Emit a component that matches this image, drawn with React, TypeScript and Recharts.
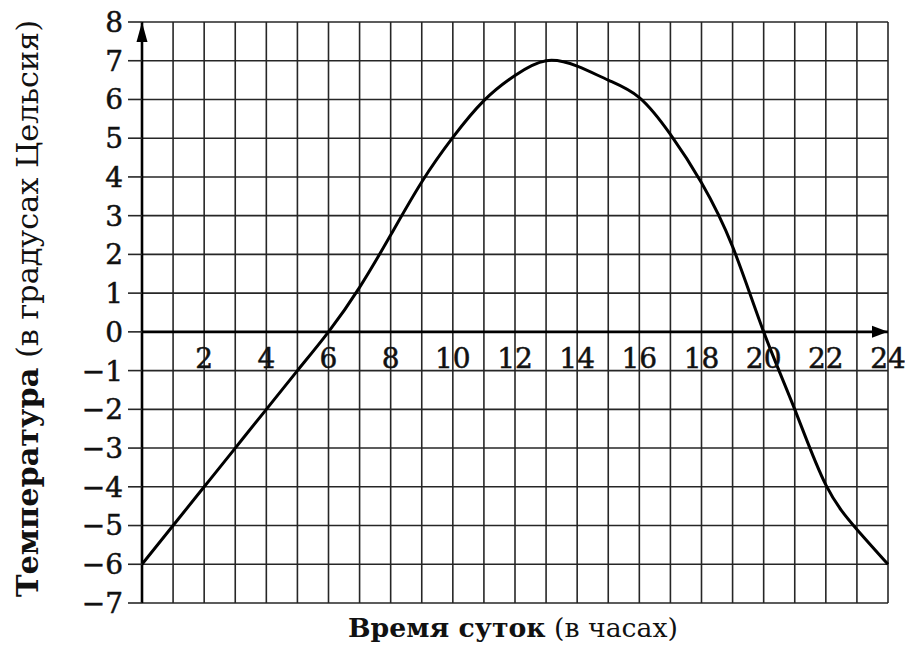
import React from 'react';
import { LineChart, Line, XAxis, YAxis, CartesianGrid, ReferenceLine, ReferenceDot } from 'recharts';

const HOURS = [0, 1, 2, 3, 4, 5, 6, 7, 8, 9, 10, 11, 12, 13, 14, 15, 16, 17, 18, 19, 20, 21, 22, 23, 24];
const TEMPS = [-6, -5, -4, -3, -2, -1, 0, 1.15, 2.5, 3.87, 5.02, 5.97, 6.62, 7, 6.86, 6.5, 6.05, 5.1, 3.85, 2.2, 0, -2, -3.95, -5.1, -6];
const X_TICKS = HOURS;
const Y_TICKS = [-7, -6, -5, -4, -3, -2, -1, 0, 1, 2, 3, 4, 5, 6, 7, 8];
const X_LABELS = [2, 4, 6, 8, 10, 12, 14, 16, 18, 20, 22, 24];
const X_TITLE_BOLD = 'Время суток';
const X_TITLE_REST = ' (в часах)';
const Y_TITLE_BOLD = 'Температура';
const Y_TITLE_REST = ' (в градусах Цельсия)';

const data = HOURS.map((h, i) => ({ hour: h, temp: TEMPS[i] }));

const FONT = "'DejaVu Serif', 'Liberation Serif', serif";
const GRID = '#262626';

const fmtY = (v: number) => (v < 0 ? '\u2212' + Math.abs(v) : String(v));

export default function App() {
  return (
    <div style={{ width: 913, height: 661, margin: -8, background: '#fff' }}>
      <LineChart width={913} height={661} data={data} margin={{ top: 22, right: 25, bottom: 57, left: 0 }}>
        <CartesianGrid stroke={GRID} strokeWidth={1.6} />
        <XAxis
          dataKey="hour"
          type="number"
          domain={[0, 24]}
          ticks={X_TICKS}
          interval={0}
          tick={() => <g />}
          tickLine={false}
          axisLine={false}
          height={1}
          label={{
            content: (p: any) => {
              const vb = p.viewBox || { x: 142, y: 603, width: 746 };
              return (
                <text
                  x={vb.x + vb.width / 2 - 2}
                  y={vb.y + 34}
                  textAnchor="middle"
                  fontFamily={FONT}
                  fontSize={26}
                  fill="#111"
                  textLength={330}
                  lengthAdjust="spacingAndGlyphs"
                >
                  <tspan fontWeight="bold">{X_TITLE_BOLD}</tspan>
                  <tspan>{X_TITLE_REST}</tspan>
                </text>
              );
            },
          }}
        />
        <YAxis
          type="number"
          domain={[-7, 8]}
          ticks={Y_TICKS}
          interval={0}
          width={142}
          tickSize={14}
          tickMargin={5}
          tickFormatter={fmtY}
          tick={{ fontFamily: FONT, fontSize: 28, fill: '#111', stroke: '#111', strokeWidth: 0.5 }}
          tickLine={{ stroke: GRID, strokeWidth: 1.6 }}
          axisLine={{ stroke: '#000', strokeWidth: 2.6 }}
          label={{
            content: (p: any) => {
              const vb = p.viewBox || { x: 0, y: 22, width: 142, height: 581 };
              const cx = vb.x + 38;
              const cy = vb.y + vb.height / 2 - 4;
              return (
                <text
                  x={cx}
                  y={cy}
                  transform={`rotate(-90, ${cx}, ${cy})`}
                  textAnchor="middle"
                  fontFamily={FONT}
                  fontSize={29}
                  fill="#111"
                  textLength={577}
                  lengthAdjust="spacingAndGlyphs"
                >
                  <tspan fontWeight="bold">{Y_TITLE_BOLD}</tspan>
                  <tspan>{Y_TITLE_REST}</tspan>
                </text>
              );
            },
          }}
        />
        <ReferenceLine y={0} stroke="#000" strokeWidth={2.6} />
        {X_LABELS.map((h) => (
          <ReferenceDot
            key={h}
            x={h}
            y={0}
            r={0}
            ifOverflow="visible"
            shape={() => <g />}
            label={{
              content: (p: any) => {
                const vb = p.viewBox;
                if (!vb) return null;
                return (
                  <text
                    x={vb.x + (vb.width || 0) / 2}
                    y={vb.y + (vb.height || 0) + 36}
                    textAnchor="middle"
                    fontFamily={FONT}
                    fontSize={28}
                    fill="#111"
                    stroke="#111"
                    strokeWidth={0.5}
                  >
                    {String(h)}
                  </text>
                );
              },
            }}
          />
        ))}
        <Line
          type="natural"
          dataKey="temp"
          stroke="#000"
          strokeWidth={3}
          dot={false}
          activeDot={false}
          isAnimationActive={false}
        />
        <ReferenceDot
          x={0}
          y={8}
          r={0}
          ifOverflow="visible"
          shape={(p: any) => (
            <path d={`M${p.cx},${p.cy} L${p.cx - 5.5},${p.cy + 20} L${p.cx + 5.5},${p.cy + 20} Z`} fill="#000" />
          )}
        />
        <ReferenceDot
          x={24}
          y={0}
          r={0}
          ifOverflow="visible"
          shape={(p: any) => (
            <path d={`M${p.cx},${p.cy} L${p.cx - 16},${p.cy - 6} L${p.cx - 16},${p.cy + 6} Z`} fill="#000" />
          )}
        />
      </LineChart>
    </div>
  );
}
